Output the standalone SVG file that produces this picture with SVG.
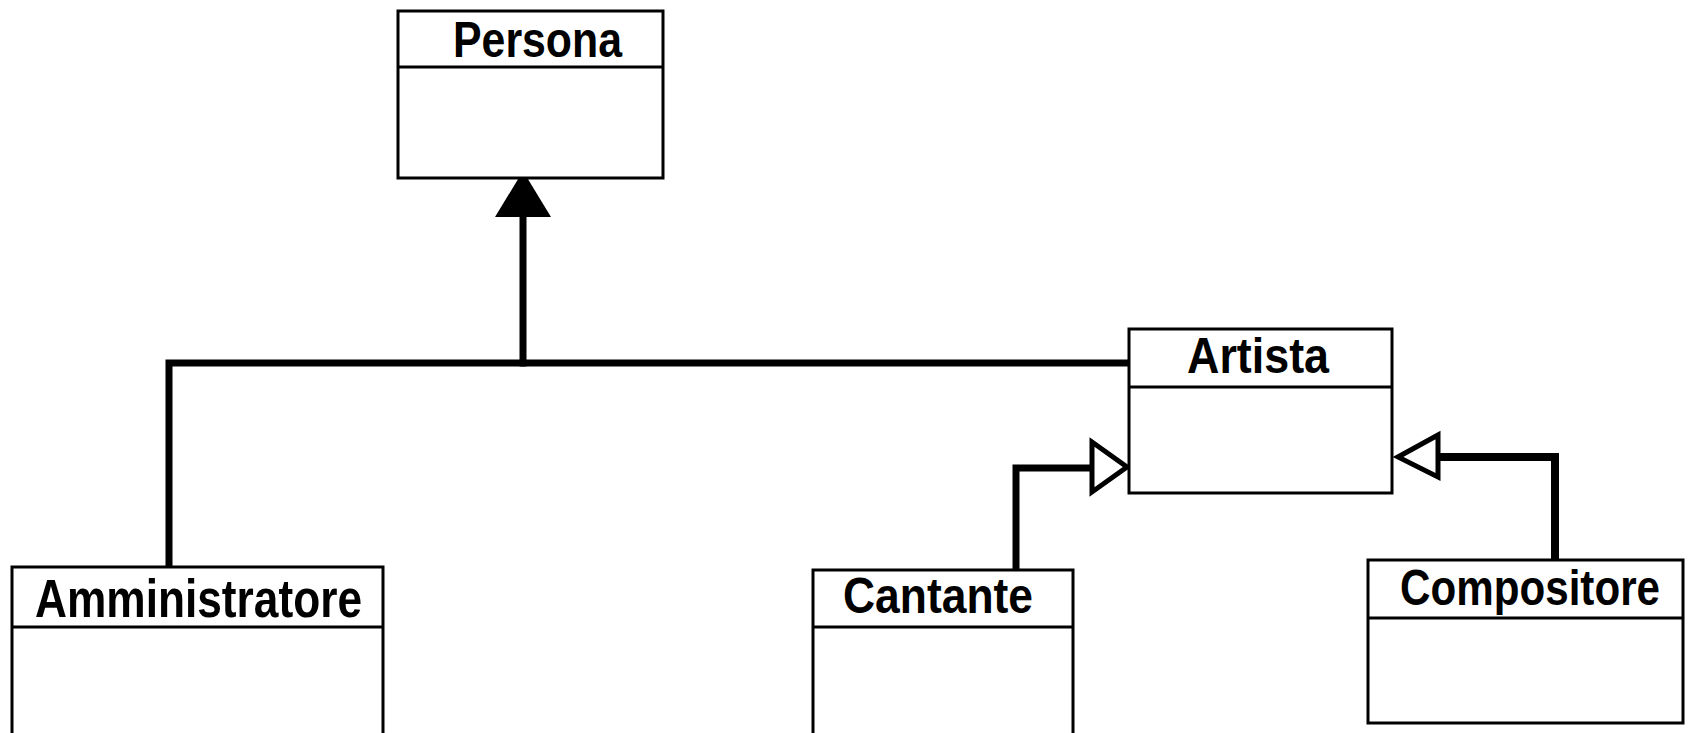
<svg xmlns="http://www.w3.org/2000/svg" width="1689" height="733" viewBox="0 0 1689 733">
<style>
.box{fill:#fff;stroke:#000;stroke-width:3}
.div{stroke:#000;stroke-width:3}
.lbl{font-family:"Liberation Sans",Arial,sans-serif;font-weight:bold;font-size:50px;fill:#000}
.conn{fill:none;stroke:#000;stroke-width:7;stroke-linecap:square;stroke-linejoin:miter}
.hollow{fill:#fff;stroke:#000;stroke-width:5;stroke-linejoin:miter}
</style>
<rect width="1689" height="733" fill="#fff"/>
<g id="connectors">
<polyline class="conn" points="169,566 169,363 1128,363"/>
<line class="conn" x1="523" y1="217" x2="523" y2="363"/>
<polygon points="523,171 551,217 495,217" fill="#000"/>
<rect x="520" y="170" width="6" height="12" fill="#000"/>
<polyline class="conn" points="1016,569 1016,468 1090,468"/>
<polygon class="hollow" points="1092,442 1127,467 1092,492"/>
<polyline class="conn" style="stroke-width:8" points="1555,558 1555,457 1440,457"/>
<polygon class="hollow" points="1438,435 1398,457 1438,477"/>
</g>
<g id="persona">
<rect class="box" x="398" y="11" width="265" height="167"/>
<line class="div" x1="398" y1="67" x2="663" y2="67"/>
<text class="lbl" x="453" y="57" textLength="169" lengthAdjust="spacingAndGlyphs">Persona</text>
</g>
<g id="artista">
<rect class="box" x="1129" y="329" width="263" height="164"/>
<line class="div" x1="1129" y1="387" x2="1392" y2="387"/>
<text class="lbl" x="1187" y="373" textLength="142" lengthAdjust="spacingAndGlyphs">Artista</text>
</g>
<g id="amministratore">
<rect class="box" x="12" y="567" width="371" height="200"/>
<line class="div" x1="12" y1="627" x2="383" y2="627"/>
<text class="lbl" x="35" y="617" textLength="327" lengthAdjust="spacingAndGlyphs" style="font-size:54px">Amministratore</text>
</g>
<g id="cantante">
<rect class="box" x="813" y="570" width="260" height="200"/>
<line class="div" x1="813" y1="627" x2="1073" y2="627"/>
<text class="lbl" x="843" y="613" textLength="190" lengthAdjust="spacingAndGlyphs">Cantante</text>
</g>
<g id="compositore">
<rect class="box" x="1368" y="560" width="315" height="163"/>
<line class="div" x1="1368" y1="618" x2="1683" y2="618"/>
<text class="lbl" x="1400" y="605" textLength="260" lengthAdjust="spacingAndGlyphs">Compositore</text>
</g>
</svg>
